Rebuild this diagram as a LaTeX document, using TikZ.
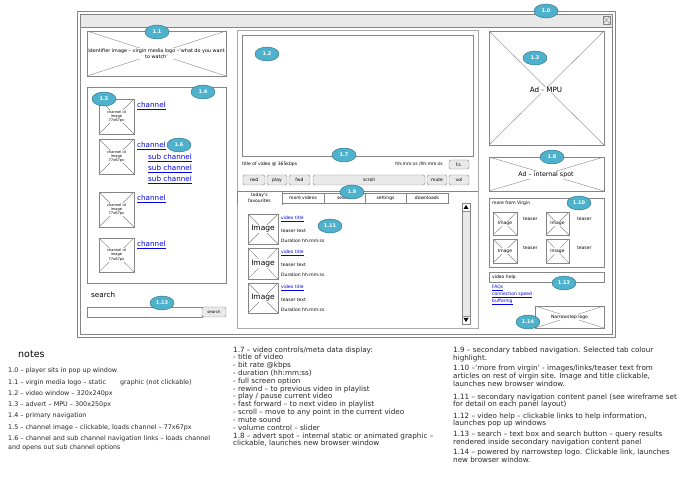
\documentclass[tikz,border=0pt]{standalone}
\usepackage{fontspec}
\setmainfont{DejaVu Sans}
\usepackage{xcolor}
\usepackage{tikz}
\usetikzlibrary{positioning, shapes.geometric, fit}

\definecolor{badgefill}{HTML}{4FB2CC}
\definecolor{badgeline}{HTML}{2B6A80}
\definecolor{frame}{HTML}{858585}
\definecolor{barfill}{HTML}{E9E9E9}
\definecolor{linkblue}{HTML}{0000EE}

\newcommand{\wtiny}{\fontsize{4.5}{5.4}\selectfont}
\newcommand{\wsmall}{\fontsize{7.2}{8}\selectfont}
\newcommand{\notefont}{\fontsize{7.2}{7.8}\selectfont}

\tikzset{
  badge/.style={ellipse, draw=badgeline, fill=badgefill, text=white,
    font=\fontsize{5}{5}\selectfont\bfseries, minimum width=24pt,
    minimum height=14pt, inner sep=0pt},
  xbox/.style={draw=frame, inner sep=0pt, path picture={
    \draw [frame] (path picture bounding box.north west) -- (path picture bounding box.south east)
      (path picture bounding box.south west) -- (path picture bounding box.north east);}},
  pane/.style={draw=frame, inner sep=0pt},
  btn/.style={draw=frame, fill=barfill, rounded corners=1.5pt, inner sep=0pt, font=\wtiny},
  wtxt/.style={fill=white, inner sep=0.6pt, font=\wtiny, align=center},
  lbl/.style={anchor=west, inner sep=0pt, font=\wtiny},
  lnk/.style={anchor=west, inner sep=0pt, text=linkblue, font=\wsmall},
  note/.style={anchor=north west, inner sep=0pt, font=\notefont, align=left, text=black!85},
  lnote/.style={note, anchor=west, font=\fontsize{6.4}{9}\selectfont},
}

\begin{document}
\begin{tikzpicture}[x=1pt, y=-1pt]
\useasboundingbox (0,0) rectangle (680,478);
% popup window
\draw [frame] (77,11) rectangle (615,337);
\draw [frame, fill=barfill] (80,14) rectangle (612,27);
\draw [frame] (80,27) rectangle (612,334);
\node [xbox, fit={(603,16) (610,24)}] (close) {};
% left column
\node [xbox, fit={(87,31) (226,76)}] (logo) {};
\node [wtxt, font=\fontsize{4.9}{5.8}\selectfont] (logotxt) at (logo) {Identifier image – virgin media logo –‘what do you want\\to watch’};
\node [pane, fit={(87,87) (226,283)}] (nav) {};
\node [xbox, fit={(99,99) (134,134)}] (chimg1) {};
\node [xbox, fit={(99,139) (134,174)}] (chimg2) {};
\node [xbox, fit={(99,192) (134,227)}] (chimg3) {};
\node [xbox, fit={(99,238) (134,272)}] (chimg4) {};
\node [wtxt, font=\fontsize{3.6}{4.4}\selectfont] (chtxt1) at (chimg1) {channel id\\image\\77x67px};
\node [wtxt, font=\fontsize{3.6}{4.4}\selectfont] (chtxt2) at (chimg2) {channel id\\image\\77x67px};
\node [wtxt, font=\fontsize{3.6}{4.4}\selectfont] (chtxt3) at (chimg3) {channel id\\image\\77x67px};
\node [wtxt, font=\fontsize{3.6}{4.4}\selectfont] (chtxt4) at (chimg4) {channel id\\image\\77x67px};
\node [lnk] (ch1) at (137,106) {\underline{channel}};
\node [lnk] (ch2) at (137,146) {\underline{channel}};
\node [lnk] (sub1) at (148,158) {\underline{sub channel}};
\node [lnk] (sub2) at (148,169) {\underline{sub channel}};
\node [lnk] (sub3) at (148,180) {\underline{sub channel}};
\node [lnk] (ch3) at (137,199) {\underline{channel}};
\node [lnk] (ch4) at (137,245) {\underline{channel}};
\node [lbl, font=\wsmall] (searchlbl) at (91,295) {search};
\node [pane, fit={(87,307) (202,317)}] (searchbox) {};
\node [btn, fit={(202,307) (226,317)}] (searchbtn) {};
\node [inner sep=0pt, font=\fontsize{4}{4}\selectfont] (searchbtntxt) at (searchbtn) {search};
% middle column
\draw [frame!70] (237,30) rectangle (478,191);
\node [pane, fit={(242,35) (473,156)}] (video) {};
\node [lbl] (vtitle) at (242,164) {title of video @ 365kbps};
\node [lbl, anchor=east] (vtime) at (443,164) {hh:mm:ss /hh:mm:ss};
\node [btn, minimum width=20pt, minimum height=9pt] (fs) at (459,164.5) {f.s.};
\node [btn, minimum width=22pt, minimum height=10pt] (rwd) at (254,180) {rwd};
\node [btn, minimum width=20pt, minimum height=10pt] (play) at (277,180) {play};
\node [btn, minimum width=21pt, minimum height=10pt] (fwd) at (299.5,180) {fwd};
\node [btn, minimum width=112pt, minimum height=10pt] (scroll) at (369,180) {scroll};
\node [btn, minimum width=20pt, minimum height=10pt] (mute) at (437,180) {mute};
\node [btn, minimum width=20pt, minimum height=10pt] (vol) at (459,180) {vol};
\draw [frame!70] (237,191) rectangle (478,328);
\draw [frame] (237,191) -- (478,191);
\draw [frame] (237,205) -- (237,191) -- (282,191) -- (282,205);
\node [wtxt, fill=none] (tab1) at (259.5,198) {today's\\favourites};
\node [pane, minimum width=42pt, minimum height=10pt, font=\wtiny] (tab2) at (303,198) {more videos};
\node [pane, minimum width=41pt, minimum height=10pt, font=\wtiny] (tab3) at (344.5,198) {search};
\node [pane, minimum width=41pt, minimum height=10pt, font=\wtiny] (tab4) at (385.5,198) {settings};
\node [pane, minimum width=42pt, minimum height=10pt, font=\wtiny] (tab5) at (427,198) {downloads};
\node [pane, fill=barfill, fit={(462,203) (470,324)}] (sbar) {};
\node [pane, fill=white, fit={(462,203) (470,211)}] (sup) {};
\node [pane, fill=white, fit={(462,316) (470,324)}] (sdown) {};
\fill (466,205) -- (468.5,209) -- (463.5,209) -- cycle;
\fill (466,322) -- (468.5,318) -- (463.5,318) -- cycle;
\node [xbox, fit={(248,214) (278,244)}] (item1) {};
\node [xbox, fit={(248,248) (278,279)}] (item2) {};
\node [xbox, fit={(248,283) (278,313)}] (item3) {};
\node [wtxt, font=\fontsize{7.5}{8}\selectfont] (itxt1) at (item1) {Image};
\node [wtxt, font=\fontsize{7.5}{8}\selectfont] (itxt2) at (item2) {Image};
\node [wtxt, font=\fontsize{7.5}{8}\selectfont] (itxt3) at (item3) {Image};
\node [lbl, text=linkblue] (vt1) at (281,219) {\underline{video title}};
\node [lbl] (tt1) at (281,231) {teaser text};
\node [lbl] (du1) at (281,241) {Duration hh:mm:ss};
\node [lbl, text=linkblue] (vt2) at (281,253) {\underline{video title}};
\node [lbl] (tt2) at (281,265) {teaser text};
\node [lbl] (du2) at (281,275) {Duration hh:mm:ss};
\node [lbl, text=linkblue] (vt3) at (281,288) {\underline{video title}};
\node [lbl] (tt3) at (281,300) {teaser text};
\node [lbl] (du3) at (281,310) {Duration hh:mm:ss};
% right column
\node [xbox, fit={(489,31) (604,145)}] (mpu) {};
\node [wtxt, font=\wsmall] (mputxt) at (546,90) {Ad - MPU};
\node [xbox, fit={(489,157) (604,191)}] (spot) {};
\node [wtxt, font=\fontsize{6.3}{7}\selectfont] (spottxt) at (546,175) {Ad – internal spot};
\node [pane, fit={(489,198) (604,267)}] (more) {};
\node [lbl] (moretxt) at (492,203) {more from Virgin};
\node [xbox, fit={(493,212) (517,235)}] (mimg1) {};
\node [xbox, fit={(493,239) (517,263)}] (mimg2) {};
\node [xbox, fit={(546,212) (569,235)}] (mimg3) {};
\node [xbox, fit={(546,239) (569,263)}] (mimg4) {};
\node [wtxt] (mtxt1) at (mimg1) {Image};
\node [wtxt] (mtxt2) at (mimg2) {Image};
\node [wtxt] (mtxt3) at (mimg3) {Image};
\node [wtxt] (mtxt4) at (mimg4) {Image};
\node [lbl] (teaser1) at (523,219) {teaser};
\node [lbl] (teaser2) at (523,248) {teaser};
\node [lbl] (teaser3) at (577,219) {teaser};
\node [lbl] (teaser4) at (577,248) {teaser};
\node [pane, fit={(489,272) (604,282)}] (help) {};
\node [lbl] (helptxt) at (492,277) {video help};
\node [lbl, text=linkblue] (faq) at (492,288) {\underline{FAQs}};
\node [lbl, text=linkblue] (speed) at (492,295) {\underline{connection speed}};
\node [lbl, text=linkblue] (buffer) at (492,302) {\underline{buffering}};
\node [xbox, fit={(535,306) (604,328)}] (nslogo) {};
\node [wtxt] (nstxt) at (nslogo) {Narrowstep logo};
% badges
\node [badge] (B0) at (546,11) {1.0};
\node [badge] (B1) at (157,32) {1.1};
\node [badge] (B2) at (267,54) {1.2};
\node [badge] (B3) at (535,58) {1.3};
\node [badge] (B4) at (203,92) {1.4};
\node [badge] (B5) at (104,99) {1.5};
\node [badge] (B6) at (179,145) {1.6};
\node [badge] (B7) at (344,155) {1.7};
\node [badge] (B8) at (552,157) {1.8};
\node [badge] (B9) at (352,192) {1.9};
\node [badge] (B10) at (579,203) {1.10};
\node [badge] (B11) at (330,226) {1.11};
\node [badge] (B12) at (564,283) {1.12};
\node [badge] (B13) at (162,303) {1.13};
\node [badge] (B14) at (528,322) {1.14};
% notes
\node [anchor=west, inner sep=0pt, font=\fontsize{9.5}{10}\selectfont] (notes) at (18,354) {notes};
\node [lnote] (n0) at (8,371) {1.0 – player sits in pop up window};
\node [lnote] (n1) at (8,383) {1.1 – virgin media logo – static\hspace{14pt}graphic (not clickable)};
\node [lnote] (n2) at (8,394) {1.2 – video window – 320x240px};
\node [lnote] (n3) at (8,405) {1.3 – advert – MPU – 300x250px};
\node [lnote] (n4) at (8,416) {1.4 – primary navigation};
\node [lnote] (n5) at (8,428) {1.5 – channel image – clickable, loads channel – 77x67px};
\node [lnote, anchor=north west] (n6) at (8,435.5) {1.6 – channel and sub channel navigation links – loads channel\\and opens out sub channel options};
\node [note] (n7) at (233,346.5) {1.7 – video controls/meta data display:\\- title of video\\- bit rate @kbps\\- duration (hh:mm:ss)\\- full screen option\\- rewind – to previous video in playlist\\- play / pause current video\\- fast forward – to next video in playlist\\- scroll – move to any point in the current video\\- mute sound\\- volume control – slider};
\node [note] (n8) at (233,432.5) {1.8 – advert spot – internal static or animated graphic –\\clickable, launches new browser window};
\node [note, font=\fontsize{7.2}{8}\selectfont] (n9) at (453,346.5) {1.9 – secondary tabbed navigation. Selected tab colour\\highlight.};
\node [note, font=\fontsize{7.2}{8}\selectfont] (n10) at (453,364.5) {1.10 –‘more from virgin’ - images/links/teaser text from\\articles on rest of virgin site. Image and title clickable,\\launches new browser window.};
\node [note, font=\fontsize{7.2}{7.5}\selectfont] (n11) at (453,393.5) {1.11 – secondary navigation content panel (see wireframe set\\for detail on each panel layout)};
\node [note, font=\fontsize{7.2}{7.5}\selectfont] (n12) at (453,412.5) {1.12 – video help – clickable links to help information,\\launches pop up windows};
\node [note, font=\fontsize{7.2}{8}\selectfont] (n13) at (453,430.5) {1.13 – search – text box and search button – query results\\rendered inside secondary navigation content panel};
\node [note, font=\fontsize{7.2}{8}\selectfont] (n14) at (453,448.5) {1.14 – powered by narrowstep logo. Clickable link, launches\\new browser window.};
\end{tikzpicture}
\end{document}
